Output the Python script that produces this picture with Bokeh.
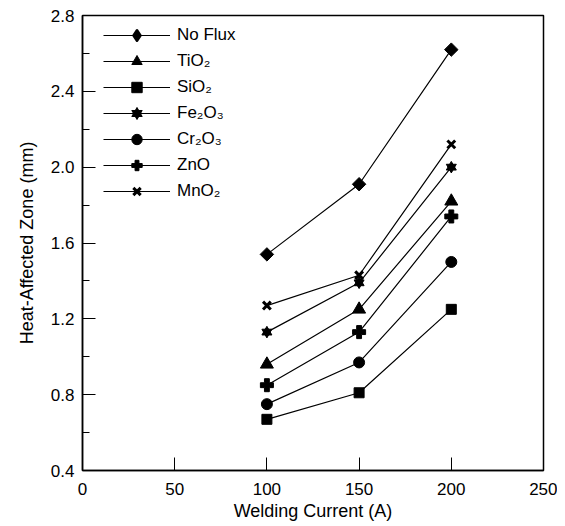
import numpy as np
from bokeh.plotting import figure
from bokeh.models import Legend, LegendItem, FixedTicker, PrintfTickFormatter
from bokeh.embed import file_html
from bokeh.resources import INLINE

# ---- data ----
currents = [100, 150, 200]
no_flux = [1.54, 1.91, 2.62]
tio2 = [0.96, 1.25, 1.82]
sio2 = [0.67, 0.81, 1.25]
fe2o3 = [1.13, 1.39, 2.00]
cr2o3 = [0.75, 0.97, 1.50]
zno = [0.85, 1.13, 1.74]
mno2 = [1.27, 1.43, 2.12]

labels = ["No Flux", "TiO₂", "SiO₂", "Fe₂O₃", "Cr₂O₃", "ZnO", "MnO₂"]
x_ticks = [0, 50, 100, 150, 200, 250]
y_ticks = [0.4, 0.8, 1.2, 1.6, 2.0, 2.4, 2.8]
y_minor_ticks = [0.6, 1.0, 1.4, 1.8, 2.2, 2.6]

FONT = "Liberation Sans"

p = figure(width=557, height=526, x_range=(0, 250), y_range=(0.4, 2.8),
           output_backend="svg", toolbar_location=None,
           min_border_left=82, min_border_right=14, min_border_top=15, min_border_bottom=56)

p.grid.visible = False
p.outline_line_color = "black"
p.outline_line_width = 1.5

p.xaxis.ticker = FixedTicker(ticks=x_ticks)
p.yaxis.ticker = FixedTicker(ticks=y_ticks, minor_ticks=y_minor_ticks)
p.yaxis.formatter = PrintfTickFormatter(format="%.1f")
p.xaxis.formatter = PrintfTickFormatter(format="%d")

for ax in (p.xaxis, p.yaxis):
    ax.axis_line_color = "black"
    ax.axis_line_width = 1.5
    ax.major_tick_in = 13
    ax.major_tick_out = 0
    ax.major_tick_line_color = "black"
    ax.major_tick_line_width = 1
    ax.minor_tick_in = 7
    ax.minor_tick_out = 0
    ax.minor_tick_line_color = "black"
    ax.major_label_text_font = FONT
    ax.major_label_text_font_size = "17px"
    ax.major_label_text_color = "black"
    ax.axis_label_text_font = FONT
    ax.axis_label_text_font_size = "18px"
    ax.axis_label_text_font_style = "normal"
    ax.axis_label_text_color = "black"

p.xaxis.minor_tick_line_color = None
p.xaxis.major_label_standoff = 12
p.yaxis.major_label_standoff = 8
p.xaxis.axis_label = "Welding Current (A)"
p.yaxis.axis_label = "Heat-Affected Zone (mm)"
p.xaxis.axis_label_standoff = 3
p.yaxis.axis_label_standoff = 11

series = [no_flux, tio2, sio2, fe2o3, cr2o3, zno, mno2]
items = []
for i, (lab, vals) in enumerate(zip(labels, series)):
    rs = [p.line(currents, vals, line_color="black", line_width=1.2)]
    if i == 0:
        p.scatter(currents, vals, marker="square", angle=np.pi / 4, size=9.5,
                  fill_color="black", line_color="black")
        # small diamond hidden inside the rotated squares; it supplies the legend glyph
        rs.append(p.scatter(currents, vals, marker="diamond", size=7, line_width=2.5,
                            line_join="round", fill_color="black", line_color="black"))
    elif i == 1:
        rs.append(p.scatter(currents, vals, marker="triangle", size=13,
                            fill_color="black", line_color="black"))
    elif i == 2:
        rs.append(p.scatter(currents, vals, marker="square", size=10,
                            fill_color="black", line_color="black"))
    elif i == 3:
        rs.append(p.scatter(currents, vals, marker="triangle", size=10,
                            fill_color="black", line_color="black"))
        rs.append(p.scatter(currents, vals, marker="inverted_triangle", size=10,
                            fill_color="black", line_color="black"))
    elif i == 4:
        rs.append(p.scatter(currents, vals, marker="circle", size=11,
                            fill_color="black", line_color="black"))
    elif i == 5:
        rs.append(p.scatter(currents, vals, marker="plus", size=13,
                            fill_color="black", line_color="black"))
    else:
        rs.append(p.scatter(currents, vals, marker="x", size=11,
                            line_color="black", line_width=3))
    items.append(LegendItem(label=lab, renderers=rs))

legend = Legend(items=items, location=(21, 266),
                glyph_width=67, glyph_height=26, label_height=26, spacing=0,
                label_standoff=7, padding=0, margin=0,
                border_line_color=None, background_fill_alpha=0,
                label_text_font=FONT, label_text_font_size="17px",
                label_text_color="black")
p.add_layout(legend)

open("out.html", "w").write(file_html(p, INLINE))
